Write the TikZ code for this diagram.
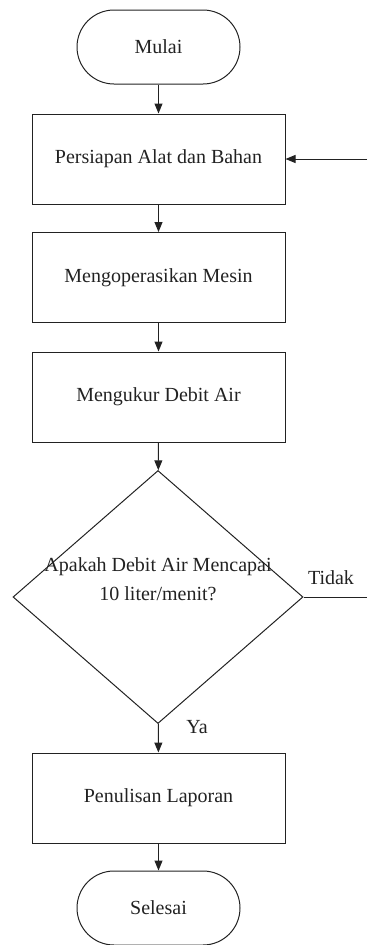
\documentclass[tikz,border=0pt]{standalone}
\usepackage{fontspec}
\setmainfont{Liberation Serif}
\usetikzlibrary{arrows.meta,shapes.geometric}
\definecolor{ink}{HTML}{222222}
\tikzset{
  base/.style={draw=ink, line width=1pt, text=ink, font=\fontsize{20}{29}\selectfont},
  term/.style={base, rectangle, rounded corners=37pt, minimum width=163pt, minimum height=74pt, inner sep=0pt},
  proc/.style={base, rectangle, minimum width=253pt, minimum height=90pt, inner sep=0pt},
  decision/.style={base, diamond, minimum width=290pt, minimum height=253pt, inner sep=0pt},
  lbl/.style={text=ink, font=\fontsize{20}{29}\selectfont, inner sep=0pt},
  flow/.style={draw=ink, line width=1pt, -{Triangle[length=10pt,width=8pt]}},
  plain/.style={draw=ink, line width=1pt}
}
\begin{document}
\begin{tikzpicture}[x=1pt,y=-1pt]
\useasboundingbox (0,0) rectangle (367,945);
\node[term] (start) at (158.5,47) {Mulai};
\node[proc] (p1) at (158.5,159) {Persiapan Alat dan Bahan};
\node[proc] (p2) at (158.5,277.5) {Mengoperasikan Mesin};
\node[proc] (p3) at (158.5,397) {Mengukur Debit Air};
\node[decision] (d) at (158,597) {};
\node[lbl, align=center] (dt) at (158,579) {Apakah Debit Air Mencapai\\10 liter/menit?};
\node[proc] (p4) at (158.5,798) {Penulisan Laporan};
\node[term] (end) at (158.5,908) {Selesai};
\coordinate (in) at (367,159);
\coordinate (out) at (367,597);
\node[lbl] (tidak) at (331,578) {Tidak};
\node[lbl] (ya) at (197,727) {Ya};
\draw[flow] (start) -- (p1);
\draw[flow] (p1) -- (p2);
\draw[flow] (p2) -- (p3);
\draw[flow] (p3) -- (d);
\draw[flow] (d) -- (p4);
\draw[flow] (p4) -- (end);
\draw[flow] (in) -- (p1.east);
\draw[plain] (d.east) -- (out);
\end{tikzpicture}
\end{document}
